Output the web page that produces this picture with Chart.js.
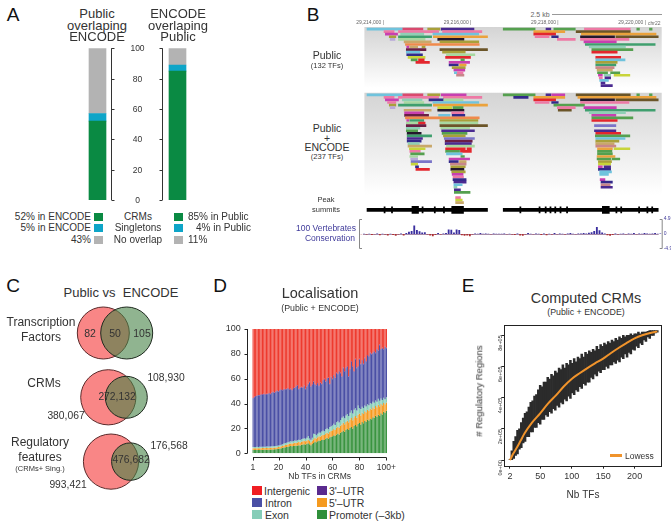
<!DOCTYPE html>
<html lang="en">
<head>
<meta charset="UTF-8">
<title>Public vs ENCODE regulatory regions</title>
<script src="https://cdn.jsdelivr.net/npm/chart.js"></script>
<style>
    body { margin: 0; background: white; font-family: "Liberation Sans", Arial, sans-serif; color: #333; }
    #page { position: relative; width: 671px; height: 522px; overflow: hidden; }
    canvas { position: absolute; }
    .t { position: absolute; transform: translate(-50%, -50%); white-space: nowrap; line-height: 1; }
    .r { position: absolute; transform: translate(-100%, -50%); white-space: nowrap; line-height: 1; }
    .l { position: absolute; transform: translateY(-50%); white-space: nowrap; line-height: 1; }
    .panel { font-size: 19px; color: #111; }
    .sq { position: absolute; width: 9px; height: 8px; }
</style>
</head>
<body>
<div id="page">
    <canvas id="chartA" width="160" height="170" style="left:60px;top:40px"></canvas>
    <canvas id="chartB" width="316" height="200" style="left:355px;top:18px"></canvas>
    <canvas id="chartCons" width="316" height="40" style="left:355px;top:214px"></canvas>
    <canvas id="chartC" width="110" height="200" style="left:60px;top:300px"></canvas>
    <canvas id="chartD" width="190" height="170" style="left:215px;top:312px"></canvas>
    <canvas id="chartE" width="198" height="183" style="left:473px;top:318px"></canvas>

    <div class="t panel" style="left:13px;top:14px">A</div>
    <div class="t panel" style="left:313px;top:14px">B</div>
    <div class="t panel" style="left:13px;top:285px">C</div>
    <div class="t panel" style="left:220px;top:285px">D</div>
    <div class="t panel" style="left:468px;top:285px">E</div>

    <div class="t" style="left:97px;top:13px;font-size:13px">Public</div>
    <div class="t" style="left:97px;top:25px;font-size:13px">overlaping</div>
    <div class="t" style="left:97px;top:36px;font-size:13px">ENCODE</div>
    <div class="t" style="left:178px;top:13px;font-size:13px">ENCODE</div>
    <div class="t" style="left:178px;top:25px;font-size:13px">overlaping</div>
    <div class="t" style="left:178px;top:36px;font-size:13px">Public</div>

    <div class="r" style="left:91px;top:217px;font-size:10px">52% in ENCODE</div>
    <div class="r" style="left:91px;top:228px;font-size:10px">5% in ENCODE</div>
    <div class="r" style="left:91px;top:240px;font-size:10px">43%</div>
    <div class="sq" style="left:94px;top:213px;background:#0a8a43"></div>
    <div class="sq" style="left:94px;top:224px;background:#0ea5c8"></div>
    <div class="sq" style="left:94px;top:236px;background:#b3b3b3"></div>
    <div class="t" style="left:138px;top:217px;font-size:10px">CRMs</div>
    <div class="t" style="left:138px;top:228px;font-size:10px">Singletons</div>
    <div class="t" style="left:138px;top:240px;font-size:10px">No overlap</div>
    <div class="sq" style="left:174px;top:213px;background:#0a8a43"></div>
    <div class="sq" style="left:174px;top:224px;background:#0ea5c8"></div>
    <div class="sq" style="left:174px;top:236px;background:#b3b3b3"></div>
    <div class="l" style="left:188px;top:217px;font-size:10px">85% in Public</div>
    <div class="r" style="left:251px;top:228px;font-size:10px">4% in Public</div>
    <div class="l" style="left:188px;top:240px;font-size:10px">11%</div>

    <div class="t" style="left:327px;top:55px;font-size:10.5px">Public</div>
    <div class="t" style="left:327px;top:66px;font-size:7.5px">(132 TFs)</div>
    <div class="t" style="left:327px;top:128px;font-size:10.5px">Public</div>
    <div class="t" style="left:327px;top:138px;font-size:10.5px">+</div>
    <div class="t" style="left:327px;top:147px;font-size:10.5px">ENCODE</div>
    <div class="t" style="left:327px;top:157px;font-size:7.5px">(237 TFs)</div>
    <div class="t" style="left:326px;top:200px;font-size:7.5px">Peak</div>
    <div class="t" style="left:326px;top:210px;font-size:7.5px">summits</div>
    <div class="t" style="left:326px;top:228px;font-size:8.5px;color:#3f3a9a">100 Vertebrates</div>
    <div class="t" style="left:330px;top:238px;font-size:8.5px;color:#3f3a9a">Conservation</div>
    <div class="t" style="left:540px;top:14px;font-size:7px;color:#666">2.5 kb</div>
    <div style="position:absolute;left:552px;top:14px;width:110px;height:0;border-top:1px solid #999"></div>
    <div class="l" style="left:648px;top:23px;font-size:5px;color:#666">chr22</div>

    <div class="t" style="left:121px;top:292px;font-size:13px">Public vs&nbsp; ENCODE</div>
    <div class="t" style="left:41px;top:322px;font-size:12px">Transcription</div>
    <div class="t" style="left:41px;top:337px;font-size:12px">Factors</div>
    <div class="t" style="left:44px;top:383px;font-size:12px">CRMs</div>
    <div class="t" style="left:40px;top:442px;font-size:12px">Regulatory</div>
    <div class="t" style="left:40px;top:457px;font-size:12px">features</div>
    <div class="t" style="left:40px;top:469px;font-size:7.5px">(CRMs+ Sing.)</div>
    <div class="t" style="left:90px;top:333px;font-size:10.5px">82</div>
    <div class="t" style="left:115px;top:333px;font-size:10.5px">50</div>
    <div class="t" style="left:142px;top:333px;font-size:10.5px">105</div>
    <div class="t" style="left:166px;top:378px;font-size:10.3px">108,930</div>
    <div class="t" style="left:117px;top:397px;font-size:10.3px">272,132</div>
    <div class="t" style="left:66px;top:416px;font-size:10.3px">380,067</div>
    <div class="t" style="left:169px;top:446px;font-size:10.3px">176,568</div>
    <div class="t" style="left:131px;top:460px;font-size:10.3px">476,682</div>
    <div class="t" style="left:68px;top:485px;font-size:10.3px">993,421</div>

    <div class="t" style="left:320px;top:293px;font-size:14.5px">Localisation</div>
    <div class="t" style="left:320px;top:308px;font-size:8.8px">(Public + ENCODE)</div>
    <div class="sq" style="left:252px;top:486px;width:10px;height:9px;background:#f01e23"></div>
    <div class="l" style="left:264px;top:491px;font-size:10.5px">Intergenic</div>
    <div class="sq" style="left:252px;top:498px;width:10px;height:9px;background:#4a4fa5"></div>
    <div class="l" style="left:265px;top:503px;font-size:10.5px">Intron</div>
    <div class="sq" style="left:252px;top:510px;width:10px;height:9px;background:#86cdb8"></div>
    <div class="l" style="left:265px;top:515px;font-size:10.5px">Exon</div>
    <div class="sq" style="left:317px;top:486px;width:10px;height:9px;background:#5a2a8e"></div>
    <div class="l" style="left:329px;top:491px;font-size:10.5px">3'–UTR</div>
    <div class="sq" style="left:317px;top:498px;width:10px;height:9px;background:#f59a1f"></div>
    <div class="l" style="left:329px;top:503px;font-size:10.5px">5'–UTR</div>
    <div class="sq" style="left:317px;top:510px;width:10px;height:9px;background:#2f8f3a"></div>
    <div class="l" style="left:329px;top:515px;font-size:10.5px">Promoter (–3kb)</div>

    <div class="t" style="left:586px;top:298px;font-size:14.4px">Computed CRMs</div>
    <div class="t" style="left:586px;top:312px;font-size:8.8px">(Public + ENCODE)</div>
    <div class="t" style="left:479px;top:391px;font-size:9.5px;transform:translate(-50%,-50%) rotate(-90deg)"># Regulatory Regions</div>
    <div style="position:absolute;left:610px;top:454px;width:12px;height:3px;background:#f0932b"></div>
    <div class="l" style="left:625px;top:456px;font-size:8.5px">Lowess</div>
</div>

<script>
// A - overlap percentages
const overlapBars = ['Public overlaping ENCODE', '', 'ENCODE overlaping Public'];
const crmShare = [52, null, 85];
const singletonShare = [5, null, 4];
const noOverlapShare = [43, null, 11];

// B - track rows: [row, start kb, end kb, TF group], positions after chr22:29,200,000
const tfPalette = {
    lb: '#6fc3dd', rs: '#d94a6e', ol: '#a9a03a', pu: '#4a2a90', gr: '#55a04f', pk: '#ee79a5',
    or: '#eba23c', mg: '#c83fb0', tl: '#8fd0b5', rd: '#e3262d', sg: '#3f9f6e', bk: '#24182c',
    br: '#6b5528', nv: '#332a8a', yg: '#c8d43a', ma: '#6a1f45', lv: '#b9a9d8', ta: '#c9a86a',
    ro: '#c8868a', pe: '#7a74c8', pg: '#a8d8a0', fo: '#f08a4b'
};
const publicTracks = [
    [0,213.61,214.42,'lb'],[0,214.43,214.89,'rs'],[0,215.0,215.28,'ol'],[0,215.31,216.06,'pu'],[0,216.73,217.46,'gr'],
    [0,217.71,217.82,'pu'],[0,217.89,218.38,'gr'],[0,218.59,219.64,'pk'],[0,219.79,219.85,'gr'],[0,220.08,220.14,'gr'],
    [1,214.0,214.23,'pk'],[1,214.33,215.25,'pk'],[1,215.34,216.24,'pk'],[1,217.43,218.14,'or'],[1,218.4,219.64,'br'],
    [2,214.03,214.31,'mg'],[2,214.38,214.91,'tl'],[2,215.12,216.17,'lb'],[2,217.43,217.93,'rd'],[2,218.52,219.64,'or'],[2,219.64,220.23,'or'],
    [3,214.12,214.27,'ol'],[3,214.33,215.09,'sg'],[3,215.13,216.37,'or'],[3,217.46,217.78,'pk'],[3,217.84,217.99,'nv'],[3,218.5,219.28,'bk'],[3,219.31,220.28,'br'],
    [4,214.14,214.25,'lv'],[4,214.33,214.94,'pg'],[4,215.23,215.83,'bk'],[4,217.97,218.38,'pk'],[4,218.5,219.61,'pk'],
    [5,214.46,215.08,'ta'],[5,215.28,216.17,'ol'],[5,218.58,219.32,'mg'],
    [6,214.49,216.18,'fo'],[6,218.61,220.21,'sg'],
    [7,214.52,214.57,'mg'],[7,214.59,214.77,'ta'],[7,214.87,214.94,'ol'],[7,218.7,219.53,'tl'],
    [8,214.51,214.96,'ma'],[8,215.28,216.37,'br'],[8,218.76,219.7,'gr'],
    [9,214.51,214.82,'lb'],[9,215.34,215.86,'ol'],[9,218.76,219.34,'rd'],
    [10,214.52,214.88,'nv'],[10,215.43,216.08,'pg'],
    [11,214.55,214.94,'yg'],[11,215.41,215.98,'rd'],[11,218.85,219.42,'rd'],
    [12,214.62,214.76,'gr'],[12,214.79,214.92,'rd'],[12,215.76,215.84,'gr'],[12,218.85,219.52,'lb'],
    [13,214.73,215.04,'rd'],[13,215.49,215.96,'mg'],[13,218.85,219.34,'ol'],
    [14,215.49,215.7,'nv'],[14,215.73,215.88,'or'],[14,218.85,219.31,'sg'],
    [15,215.56,215.86,'ol'],[15,218.85,219.27,'ro'],
    [16,215.6,215.85,'mg'],[16,218.88,219.23,'ta'],
    [17,215.61,215.67,'lb'],[17,215.68,215.81,'pk'],[17,218.89,219.12,'gr'],[17,219.19,219.4,'gr'],
    [18,215.66,215.83,'ro'],[18,218.91,219.0,'mg'],[18,219.04,219.19,'tl'],[18,219.27,219.63,'yg'],
    [19,218.93,219.0,'pk'],[19,219.06,219.19,'pu'],
    [20,218.94,219.14,'lb'],
    [21,218.97,219.06,'pu'],
    [22,218.97,219.23,'pu']
];
const combinedTracks = [
    [0,213.61,214.42,'lb'],[0,214.43,214.89,'rs'],[0,215.0,215.28,'ol'],[0,215.31,215.88,'mg'],[0,216.73,217.46,'gr'],[0,217.71,217.82,'pu'],
    [0,217.84,218.14,'mg'],[0,218.4,219.64,'br'],[0,219.79,219.85,'gr'],[0,220.08,220.14,'gr'],
    [1,214.0,214.23,'pk'],[1,214.33,215.25,'pk'],[1,215.36,216.24,'pk'],[1,216.97,217.3,'nv'],[1,217.43,218.14,'or'],[1,218.44,219.64,'or'],[1,219.64,220.23,'or'],
    [2,214.03,214.33,'mg'],[2,214.42,214.87,'tl'],[2,215.03,215.36,'nv'],[2,215.37,215.81,'pg'],[2,217.43,217.93,'rd'],[2,218.5,219.28,'bk'],[2,219.31,220.28,'br'],
    [3,214.08,214.27,'pk'],[3,214.46,214.91,'pg'],[3,215.12,216.17,'lb'],[3,217.46,217.78,'pk'],[3,217.84,217.99,'nv'],[3,218.5,219.61,'pk'],
    [4,214.12,214.27,'ol'],[4,214.33,215.09,'sg'],[4,215.13,216.37,'or'],[4,217.89,218.59,'gr'],
    [5,214.14,214.25,'lv'],[5,215.23,215.55,'yg'],[5,215.58,215.81,'gr'],[5,217.97,218.38,'pk'],[5,218.58,219.32,'mg'],
    [6,214.46,215.08,'ta'],[6,215.23,215.83,'bk'],[6,217.99,218.29,'br'],[6,218.61,220.21,'sg'],
    [7,214.47,214.91,'mg'],[7,215.55,215.83,'pk'],[7,218.7,219.53,'tl'],
    [8,214.47,215.02,'ma'],[8,215.25,215.51,'lb'],[8,215.56,215.85,'nv'],[8,218.76,219.31,'mg'],
    [9,214.49,216.18,'fo'],[9,218.76,219.7,'gr'],
    [10,214.52,214.57,'mg'],[10,214.59,214.91,'sg'],[10,215.28,216.15,'ol'],[10,218.76,219.34,'rd'],
    [11,214.51,214.79,'pg'],[11,214.79,214.94,'rd'],[11,215.28,216.15,'pg'],
    [12,214.51,214.96,'ma'],[12,215.28,216.37,'br'],[12,218.82,219.31,'pe'],
    [13,214.51,214.82,'tl'],[13,215.3,215.96,'pg'],
    [14,214.51,214.77,'gr'],[14,215.32,216.07,'pu'],[14,218.82,219.31,'pu'],
    [15,214.53,214.85,'bk'],[15,215.33,215.9,'gr'],[15,218.85,219.42,'rd'],
    [16,214.53,215.09,'sg'],[16,215.36,215.86,'ol'],[16,218.84,219.63,'gr'],
    [17,214.53,214.88,'pu'],[17,215.38,216.07,'pe'],[17,218.85,219.52,'lb'],
    [18,214.53,214.85,'nv'],[18,215.4,216.02,'ma'],[18,218.85,219.38,'ol'],
    [19,214.55,214.81,'tl'],[19,215.4,216.0,'pu'],[19,218.85,219.27,'ta'],
    [20,214.55,215.09,'ta'],[20,215.43,216.07,'pg'],[20,218.85,219.31,'ro'],
    [21,214.58,214.94,'yg'],[21,215.41,215.86,'rd'],[21,215.9,216.0,'rd'],[21,218.89,219.23,'or'],[21,219.27,219.63,'yg'],
    [22,214.59,214.83,'pk'],[22,215.41,215.73,'gr'],[22,215.75,216.0,'rd'],[22,218.89,219.22,'gr'],
    [23,214.61,214.92,'gr'],[23,215.43,215.79,'lb'],[23,218.89,219.23,'gr'],
    [24,214.59,214.77,'pg'],[24,215.76,215.84,'gr'],[24,218.88,219.29,'or'],
    [25,214.61,214.77,'lv'],[25,215.49,215.96,'mg'],[25,218.88,219.19,'gr'],[25,219.22,219.4,'gr'],
    [26,214.62,215.09,'pe'],[26,215.49,215.7,'nv'],[26,215.73,215.88,'ta'],[26,218.91,219.21,'ol'],
    [27,214.62,214.77,'yg'],[27,215.52,215.88,'ro'],[27,218.91,219.19,'yg'],
    [28,214.72,214.79,'nv'],[28,215.53,215.86,'ol'],[28,218.91,219.0,'mg'],[28,219.04,219.19,'pu'],
    [29,214.73,215.04,'rd'],[29,215.53,215.83,'bk'],[29,218.91,219.19,'nv'],
    [30,215.55,215.86,'ol'],[30,218.94,219.21,'lb'],
    [31,215.56,215.81,'mg'],[31,218.94,219.14,'lb'],
    [32,215.58,215.82,'pk'],
    [33,215.58,215.88,'nv'],[33,218.95,219.06,'mg'],
    [34,215.6,215.88,'pu'],[34,218.97,219.23,'nv'],
    [35,215.6,215.79,'lb'],[35,218.97,219.18,'ro'],
    [36,215.6,215.67,'tl'],[36,218.97,219.23,'pu'],
    [37,215.61,215.75,'pu'],
    [38,215.61,215.97,'gr'],
    [40,215.64,215.75,'pk'],
    [41,215.64,215.79,'yg'],
    [42,215.64,215.82,'ta']
];
const combinedRowOffset = 25.6;
const summitRow = 70.4;
const summitRuns = [[213.61, 216.37], [216.73, 220.28]];
const summitClusters = [[214.64, 214.79], [215.55, 215.82], [219.0, 219.16]];
const summitPeaks = [214.0, 214.17, 214.87, 215.15, 215.36, 217.11, 217.55, 217.69, 217.8, 217.91, 218.03, 218.18, 219.31, 219.42, 219.83, 220.02, 220.13];
const genomeTicks = [214, 216, 218, 220];

// B - conservation track
const conservation = [
    -0.1,0.1,-0.2,0.1,-0.3,-0.1,0.2,-0.4,0.1,-0.2,-0.5,0.1,-0.3,-0.6,-0.2,0.2,-0.5,
    0.3,0.7,1.0,2.8,1.3,0.9,0.5,0.6,-0.2,-0.5,-0.7,-0.3,0.3,-0.2,0.2,0.3,
    1.5,1.4,0.5,1.5,1.3,-0.4,-0.6,-0.5,-0.7,-0.2,0.2,0.1,0.3,0.1,0.2,0.1,-0.1,
    0.2,0.1,0.1,0.1,0.2,-0.1,0.1,-0.2,-0.3,0.2,-0.5,-0.6,-0.2,0.3,0.1,-0.1,0.2,
    0.1,-0.3,0.2,-0.4,0.1,-0.2,0.3,-0.1,0.2,0.1,-0.2,0.2,0.3,0.1,-0.1,0.2,0.2,
    0.3,0.2,0.4,0.6,1.0,2.3,1.2,0.5,0.2,-0.4,-0.6,-0.3,0.2,-0.2,0.1,0.2,-0.1,
    0.2,0.1,0.3,-0.1,0.2,0.1,0.3,0.2,0.1,0.2,0.3,0.1,0.2
];
const consTicks = [-4.88, 0, 4.88];

// C - venn rows
const vennRows = [0, 1, 2];
const publicCentre = [103.3, 108.3, 111];
const encodeCentre = [126.7, 126.3, 130.3];
const publicRadius = [26, 27.6, 27.6];
const encodeRadius = [26, 21, 18.7];

// D - percent of CRMs per TF count, upper edge of each class
const tfCounts = Array.from({length: 100}, (_, i) => i === 99 ? '100+' : String(i + 1));
const dTickLabels = ['1', '20', '40', '60', '80', '100+'];
const promoterTop = [
    2.6,2.6,2.6,2.7,2.7,2.7,2.7,2.8,2.8,2.8,2.9,2.9,2.9,3.0,3.0,3.1,3.2,3.3,3.5,3.7,
    3.9,4.1,4.4,4.7,4.9,5.0,5.3,5.6,5.8,5.6,5.9,6.1,6.0,6.3,6.5,6.2,6.8,7.0,7.3,7.1,
    7.6,8.0,7.2,6.5,7.4,8.3,9.4,8.8,9.6,10.2,9.9,10.6,11.2,10.8,11.9,12.4,11.8,13.0,13.4,13.8,
    14.5,13.9,15.2,15.9,15.2,16.6,17.1,18.3,17.4,19.0,19.6,18.8,20.4,21.2,20.0,21.9,22.8,21.7,23.6,24.4,
    23.2,25.1,24.2,26.0,25.3,27.2,26.4,28.0,27.4,29.1,28.5,30.2,29.4,31.0,30.1,32.2,31.3,33.4,32.6,34.2
];
const utr5Top = [
    4.0,4.0,4.0,4.1,4.1,4.1,4.1,4.2,4.2,4.2,4.3,4.3,4.3,4.4,4.4,4.5,4.6,4.7,4.9,5.1,
    5.3,5.6,5.9,6.3,6.6,6.8,7.2,7.6,7.9,7.8,8.1,8.4,8.3,8.6,9.0,8.7,9.3,9.6,10.0,9.7,
    10.3,10.9,9.8,8.9,10.2,11.4,12.8,11.9,13.0,13.8,13.6,14.4,15.0,14.7,16.0,16.6,15.9,17.4,18.0,18.5,
    19.6,18.8,20.6,21.4,20.6,22.2,23.2,24.6,23.4,25.2,26.2,25.0,27.0,28.4,26.6,29.0,30.0,28.6,31.0,32.0,
    30.4,32.6,31.6,33.8,33.0,35.0,34.0,36.0,35.2,37.0,36.0,38.0,37.0,39.0,37.8,39.6,38.6,40.4,39.4,40.8
];
const exonTop = [
    5.0,5.1,5.1,5.2,5.1,5.2,5.2,5.3,5.3,5.3,5.4,5.4,5.5,5.5,5.6,5.7,5.8,5.9,6.1,6.3,
    6.5,6.9,7.3,7.8,8.2,8.4,8.9,9.3,9.7,9.5,9.9,10.3,10.1,10.5,11.0,10.6,11.3,11.7,12.2,11.8,
    12.6,14.0,11.9,10.9,12.5,15.8,15.6,14.5,15.8,16.8,16.5,17.5,18.3,17.8,19.4,20.1,19.3,21.1,21.8,22.4,
    23.7,22.7,24.9,25.8,24.8,26.8,28.6,29.6,28.2,30.4,31.6,30.0,32.6,34.4,32.0,35.0,36.2,34.5,38.5,36.2,
    35.6,37.4,36.4,38.4,37.6,39.4,38.6,40.4,39.8,41.4,40.6,42.4,41.4,43.8,42.2,44.0,42.8,44.6,43.4,45.0
];
const intronTop = [
    44.0,45.0,45.5,46.0,46.5,46.5,47.0,47.0,47.5,47.0,47.5,47.5,48.0,47.5,48.5,49.0,48.5,49.5,50.0,49.5,
    50.5,51.0,50.5,51.5,51.0,51.5,52.0,51.0,51.5,50.5,52.0,52.5,53.5,54.5,51.5,52.5,53.0,52.5,54.0,51.5,
    53.5,55.5,57.0,53.5,55.0,57.5,55.5,54.5,56.0,54.0,56.5,55.5,58.5,59.5,57.5,60.0,60.5,55.5,61.0,59.5,
    62.5,60.5,64.5,63.5,65.5,64.5,61.5,68.5,65.5,68.5,69.5,61.5,67.5,73.5,69.5,65.5,75.5,68.5,69.5,75.5,
    71.5,74.5,71.5,76.5,73.5,78.5,77.5,80.5,79.5,80.5,81.5,80.5,83.5,82.5,87.0,83.5,84.5,83.5,85.5,84.5
];
const utr3Top = [
    44.5,45.5,46,46.5,47,47,47.5,47.5,48,47.5,48,48,48.5,48,49,49.5,49,50,50.5,50,
    51,51.5,51,52,51.5,52,52.5,51.5,52,51,52.5,53,54,55,52,53,53.5,53,54.5,52,
    54,56,57.5,54,55.5,58,56,55,56.5,54.5,57,56,59,60,58,60.5,61,56,61.5,60,
    63,61,65,64,66,65,62,69,66,69,70,62,68,74,70,66,76,69,70,76,
    72,75,72,77,74,79,78,81,80,81,82,81,84,83,87.5,84,85,84,86,85
];

// E - computed CRMs, spread per number of TFs (in 100,000 regions)
const sampledTFs = [
    2,5,8,11,14,17,20,23,26,29,32,35,38,41,44,47,50,53,56,59,62,65,68,71,74,77,80,83,86,89,
    92,95,98,101,104,107,110,113,116,119,122,125,128,131,134,137,140,143,146,149,152,155,158,161,164,167,170,173,176,179,
    182,185,188,191,194,197,200,203,206,209,212,215,218,221,224,227,230,233,236
];
const regionsHigh = [
    0.05,0.6,1.2,1.5,1.9,2.0,2.4,2.7,3.0,3.1,3.4,3.7,3.8,4.1,4.2,4.5,4.8,4.7,5.0,5.0,5.3,5.2,5.5,5.4,5.7,5.6,5.9,5.8,6.1,5.9,
    6.2,6.1,6.4,6.2,6.5,6.3,6.6,6.5,6.8,6.6,6.9,6.8,7.0,6.9,7.1,7.0,7.3,7.1,7.4,7.3,7.5,7.4,7.6,7.5,7.7,7.6,7.8,7.7,7.9,7.8,
    8.0,7.9,8.0,8.0,8.1,8.0,8.1,8.1,8.2,8.1,8.2,8.2,8.2,8.25,8.3,8.3,8.3,8.3,8.3
];
const regionsLow = [
    0,0,0.1,0.3,0.4,0.7,0.8,1.1,1.2,1.5,1.5,1.8,1.8,2.1,2.1,2.4,2.3,2.6,2.6,2.9,2.8,3.1,3.0,3.3,3.2,3.5,3.4,3.7,3.6,3.9,
    3.8,4.1,3.95,4.3,4.2,4.5,4.4,4.7,4.6,4.9,4.8,5.0,5.0,5.3,5.2,5.5,5.4,5.7,5.6,5.8,5.8,6.0,5.9,6.1,6.1,6.3,6.2,6.4,6.3,6.6,
    6.5,6.8,6.6,6.9,6.8,7.1,7.05,7.3,7.2,7.5,7.4,7.7,7.6,7.9,7.8,8.0,8.0,8.15,8.2
];
const lowessTFs = [2, 7, 13, 19, 25, 37, 50, 62, 75, 87, 100, 112, 125, 137, 150, 162, 175, 187, 200, 212, 225, 236];
const lowessValues = [0, 0.4, 0.8, 1.25, 1.7, 2.4, 3.0, 3.6, 4.15, 4.7, 5.2, 5.55, 5.9, 6.2, 6.5, 6.85, 7.2, 7.5, 7.8, 8.0, 8.15, 8.25];
const eXTicks = [2, 50, 100, 150, 200];
const eYTicks = [0, 2, 4, 6, 8];

Chart.defaults.font.family = '"Liberation Sans", Arial, sans-serif';
Chart.defaults.color = '#333';
Chart.defaults.animation = false;
Chart.defaults.responsive = false;
Chart.defaults.layout.autoPadding = false;
Chart.defaults.plugins.legend.display = false;
Chart.defaults.plugins.tooltip.enabled = false;

// panel A: brackets either side of the shared axis, numbers in the middle
const bracketAxis = {
    id: 'bracketAxis',
    afterDraw(chart) {
        const { ctx, scales: { x, y } } = chart;
        const mid = x.getPixelForValue(1);
        ctx.save();
        ctx.strokeStyle = '#333';
        ctx.lineWidth = 1;
        ctx.fillStyle = '#333';
        ctx.font = '8.5px "Liberation Sans"';
        ctx.textAlign = 'center';
        ctx.textBaseline = 'middle';
        y.ticks.forEach(t => {
            const py = Math.round(y.getPixelForValue(t.value)) + 0.5;
            ctx.beginPath();
            ctx.moveTo(mid - 26, py); ctx.lineTo(mid - 23, py);
            ctx.moveTo(mid + 25, py); ctx.lineTo(mid + 22, py);
            ctx.stroke();
            ctx.fillText(t.value, mid, py);
        });
        ctx.beginPath();
        ctx.moveTo(mid - 26, y.top); ctx.lineTo(mid - 26, y.bottom);
        ctx.moveTo(mid + 25, y.top); ctx.lineTo(mid + 25, y.bottom);
        ctx.stroke();
        ctx.restore();
    }
};

new Chart(document.getElementById('chartA'), {
    type: 'bar',
    data: {
        labels: overlapBars,
        datasets: [
            { label: 'CRMs', data: crmShare, backgroundColor: '#0a8a43' },
            { label: 'Singletons', data: singletonShare, backgroundColor: '#0ea5c8' },
            { label: 'No overlap', data: noOverlapShare, backgroundColor: '#b3b3b3' }
        ]
    },
    options: {
        layout: { padding: { left: 17.5, right: 22.5, top: 8.3, bottom: 10 } },
        datasets: { bar: { barThickness: 17 } },
        scales: {
            x: { stacked: true, display: false },
            y: { stacked: true, display: false, min: 0, max: 100, ticks: { stepSize: 20 } }
        }
    },
    plugins: [bracketAxis]
});

// panel B: grey fades behind the two pile-ups
const trackBackground = {
    id: 'trackBackground',
    beforeDatasetsDraw(chart) {
        const { ctx, chartArea: a, scales: { y } } = chart;
        [[-0.8, 23], [24.8, 64.6]].forEach(([r0, r1]) => {
            const top = y.getPixelForValue(r0), bottom = y.getPixelForValue(r1);
            const g = ctx.createLinearGradient(0, top, 0, bottom);
            g.addColorStop(0, '#d4d4d4');
            g.addColorStop(1, '#ffffff');
            ctx.fillStyle = g;
            ctx.fillRect(a.left, top, a.right - a.left, bottom - top);
        });
    }
};

const toBar = (rows, offset) => rows.map(([row, a, b]) => ({ x: [a, b], y: row + offset }));

new Chart(document.getElementById('chartB'), {
    type: 'bar',
    data: {
        datasets: [
            {
                data: toBar(publicTracks, 0),
                backgroundColor: publicTracks.map(r => tfPalette[r[3]]),
                barThickness: 2
            },
            {
                data: toBar(combinedTracks, combinedRowOffset),
                backgroundColor: combinedTracks.map(r => tfPalette[r[3]]),
                barThickness: 2
            },
            {
                data: summitRuns.map(r => ({ x: r, y: summitRow })),
                backgroundColor: '#000',
                barThickness: 3
            },
            {
                data: summitClusters.map(r => ({ x: r, y: summitRow })),
                backgroundColor: '#000',
                barThickness: 7
            },
            {
                data: summitPeaks.map(p => ({ x: [p, p + 0.025], y: summitRow })),
                backgroundColor: '#000',
                barThickness: 6
            }
        ]
    },
    options: {
        indexAxis: 'y',
        layout: { padding: { left: 5, right: 9.3, bottom: 4 } },
        datasets: { bar: { grouped: false } },
        scales: {
            x: {
                type: 'linear', position: 'top', min: 213.55, max: 220.36,
                afterFit: s => { s.height = 9; },
                afterBuildTicks: s => { s.ticks = genomeTicks.map(v => ({ value: v })); },
                grid: { display: false, drawTicks: false }, border: { display: false },
                ticks: {
                    align: 'end', padding: 1, maxRotation: 0, autoSkip: false,
                    font: { size: 5 }, color: '#666',
                    callback: v => '29,' + v + ',000 |'
                }
            },
            y: { type: 'linear', display: false, reverse: true, offset: false, min: -0.8, max: 72 }
        }
    },
    plugins: [trackBackground]
});

// conservation track with its square bracket and zero line
const consBracket = {
    id: 'consBracket',
    beforeDatasetsDraw(chart) {
        const { ctx, chartArea: a, scales: { y } } = chart;
        const zero = Math.round(y.getPixelForValue(0)) + 0.5;
        ctx.save();
        ctx.strokeStyle = '#a58aa8';
        ctx.lineWidth = 1;
        ctx.beginPath();
        ctx.moveTo(a.left + 3, zero); ctx.lineTo(a.right - 3, zero);
        ctx.stroke();
        ctx.restore();
    },
    afterDraw(chart) {
        const { ctx, chartArea: a } = chart;
        ctx.save();
        ctx.strokeStyle = '#888';
        ctx.lineWidth = 1;
        ctx.beginPath();
        ctx.moveTo(a.left + 2, a.top + 0.5); ctx.lineTo(a.left - 0.5, a.top + 0.5); ctx.lineTo(a.left - 0.5, a.bottom - 0.5); ctx.lineTo(a.left + 2, a.bottom - 0.5);
        ctx.moveTo(a.right - 2, a.top + 0.5); ctx.lineTo(a.right + 0.5, a.top + 0.5); ctx.lineTo(a.right + 0.5, a.bottom - 0.5); ctx.lineTo(a.right - 2, a.bottom - 0.5);
        ctx.stroke();
        ctx.restore();
    }
};

new Chart(document.getElementById('chartCons'), {
    type: 'bar',
    data: {
        labels: conservation.map((_, i) => i),
        datasets: [{
            data: conservation,
            backgroundColor: conservation.map(v => v >= 0 ? '#3b2f9f' : '#b03030'),
            barPercentage: 0.7, categoryPercentage: 1
        }]
    },
    options: {
        layout: { padding: { left: 5, top: 4, bottom: 4 } },
        scales: {
            x: { display: false },
            y: {
                position: 'right', min: -4.88, max: 4.88,
                afterFit: s => { s.width = 9.3; },
                afterBuildTicks: s => { s.ticks = consTicks.map(v => ({ value: v })); },
                grid: { display: false, drawTicks: false }, border: { display: false },
                ticks: { padding: 2, font: { size: 5 }, color: '#3f3a9a' }
            }
        }
    },
    plugins: [consBracket]
});

// panel C: venn circles as bubbles
new Chart(document.getElementById('chartC'), {
    type: 'bubble',
    data: {
        datasets: [
            {
                label: 'Public',
                order: 2,
                data: vennRows.map((row, i) => ({ x: publicCentre[i], y: row, r: publicRadius[i] })),
                backgroundColor: '#f98686', borderColor: '#5a2a2a', borderWidth: 1
            },
            {
                label: 'ENCODE',
                order: 1,
                data: vennRows.map((row, i) => ({ x: encodeCentre[i], y: row, r: encodeRadius[i] })),
                backgroundColor: 'rgba(70,130,70,0.6)', borderColor: '#1f2a1f', borderWidth: 1
            }
        ]
    },
    options: {
        scales: {
            x: { display: false, min: 60, max: 170 },
            y: { display: false, reverse: true, min: -0.513, max: 2.597 }
        }
    }
});

// panel D: axis lines sit apart from the bars
const offsetAxes = {
    id: 'offsetAxes',
    afterDraw(chart) {
        const { ctx, chartArea: a, scales: { x, y } } = chart;
        const lineX = Math.round(a.left - 5) + 0.5, lineY = Math.round(a.bottom + 4) + 0.5;
        ctx.save();
        ctx.strokeStyle = '#222';
        ctx.lineWidth = 1;
        ctx.beginPath();
        ctx.moveTo(lineX, y.getPixelForValue(0)); ctx.lineTo(lineX, y.getPixelForValue(100));
        y.ticks.forEach(t => {
            const py = Math.round(y.getPixelForValue(t.value)) + 0.5;
            ctx.moveTo(lineX, py); ctx.lineTo(lineX - 3, py);
        });
        ctx.moveTo(x.getPixelForValue(0), lineY); ctx.lineTo(x.getPixelForValue(99), lineY);
        dTickLabels.forEach(l => {
            const px = Math.round(x.getPixelForValue(tfCounts.indexOf(l))) + 0.5;
            ctx.moveTo(px, lineY); ctx.lineTo(px, lineY + 3);
        });
        ctx.stroke();
        ctx.restore();
    }
};

const zeros = tfCounts.map(() => 0);
const hundreds = tfCounts.map(() => 100);
const band = (lower, upper) => upper.map((v, i) => [lower[i], v]);

new Chart(document.getElementById('chartD'), {
    type: 'bar',
    data: {
        labels: tfCounts,
        datasets: [
            { label: 'Intergenic', data: band(utr3Top, hundreds), backgroundColor: '#ee3a2e' },
            { label: "3'-UTR", data: band(intronTop, utr3Top), backgroundColor: '#5a2a8e' },
            { label: 'Intron', data: band(exonTop, intronTop), backgroundColor: '#4a4fa5' },
            { label: 'Exon', data: band(utr5Top, exonTop), backgroundColor: '#86cdb8' },
            { label: "5'-UTR", data: band(promoterTop, utr5Top), backgroundColor: '#f59a1f' },
            { label: 'Promoter (-3kb)', data: band(zeros, promoterTop), backgroundColor: '#3a9440' }
        ]
    },
    options: {
        layout: { padding: { right: 9.3, top: 10.3 } },
        datasets: { bar: { grouped: false, barPercentage: 0.9, categoryPercentage: 1 } },
        scales: {
            x: {
                afterFit: s => { s.height = 28.7; },
                grid: { display: false, drawTicks: false }, border: { display: false },
                ticks: {
                    autoSkip: false, maxRotation: 0, padding: 9, font: { size: 8.5 },
                    callback: function (v) {
                        const l = this.getLabelForValue(v);
                        return dTickLabels.includes(l) ? l : null;
                    }
                },
                title: { display: true, text: 'Nb TFs in CRMs', font: { size: 8.5 }, padding: 0 }
            },
            y: {
                min: 0, max: 100,
                afterFit: s => { s.width = 37.3; },
                grid: { display: false, drawTicks: false }, border: { display: false },
                ticks: { stepSize: 20, padding: 11.6, font: { size: 9 } }
            }
        }
    },
    plugins: [offsetAxes]
});

// panel E: plot box
const plotBox = {
    id: 'plotBox',
    afterDraw(chart) {
        const { ctx, chartArea: a } = chart;
        ctx.save();
        ctx.strokeStyle = '#222';
        ctx.lineWidth = 1;
        ctx.strokeRect(Math.round(a.left) + 0.5, Math.round(a.top) + 0.5, Math.round(a.right - a.left), Math.round(a.bottom - a.top));
        ctx.restore();
    }
};

new Chart(document.getElementById('chartE'), {
    type: 'bar',
    data: {
        datasets: [
            {
                type: 'line',
                label: 'Lowess',
                order: 0,
                data: lowessTFs.map((tf, i) => ({ x: tf, y: lowessValues[i] })),
                borderColor: '#f0932b', borderWidth: 2, pointRadius: 0, cubicInterpolationMode: 'monotone'
            },
            {
                label: 'Regions',
                order: 1,
                data: sampledTFs.map((tf, i) => ({ x: tf, y: [regionsLow[i], regionsHigh[i]] })),
                backgroundColor: '#2b2b2b',
                barThickness: 1.9
            }
        ]
    },
    options: {
        layout: { padding: { right: 9.3, top: 7 } },
        scales: {
            x: {
                type: 'linear', offset: false, min: -7, max: 243,
                afterFit: s => { s.height = 35.3; },
                afterBuildTicks: s => { s.ticks = eXTicks.map(v => ({ value: v })); },
                grid: { offset: false, drawOnChartArea: false, tickLength: 3, color: '#222' }, border: { display: false },
                ticks: { autoSkip: false, maxRotation: 0, padding: 2, font: { size: 9 } },
                title: { display: true, text: 'Nb TFs', font: { size: 10 }, padding: 0 }
            },
            y: {
                type: 'linear', min: -0.36, max: 8.66,
                afterFit: s => { s.width = 31.3; },
                afterBuildTicks: s => { s.ticks = eYTicks.map(v => ({ value: v })); },
                grid: { drawOnChartArea: false, tickLength: 3, color: '#222' }, border: { display: false },
                ticks: {
                    padding: 1, minRotation: 90, maxRotation: 90, font: { size: 5.5 },
                    callback: v => v + 'e+0' + (v ? 5 : 0)
                }
            }
        }
    },
    plugins: [plotBox]
});
</script>
</body>
</html>
